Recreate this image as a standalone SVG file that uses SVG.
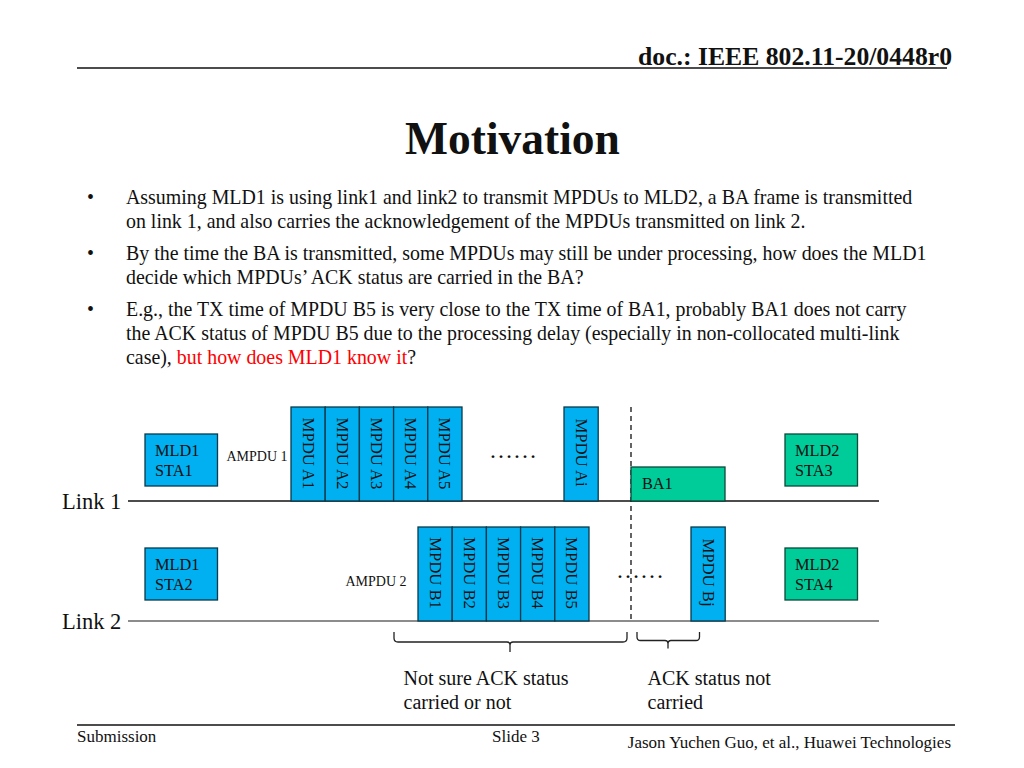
<svg xmlns="http://www.w3.org/2000/svg" width="1024" height="768" viewBox="0 0 1024 768">
<style>
text{font-family:"Liberation Serif","Times New Roman",serif;fill:#111}
.b{font-size:19.900px}
.s{font-size:16.300px}
.x{font-size:14px}
.m{font-size:16.700px;text-anchor:middle}
.t{font-size:20px}
.lk{font-size:22.500px}
.f{font-size:17px}
.d{font-size:24px}
.blue{fill:#00b0f0;stroke:#0a3a4a;stroke-width:1.3}
.green{fill:#00cc99;stroke:#0a4a3a;stroke-width:1.3}
.l{fill:none;stroke:#222;stroke-width:1.3}
</style>
<rect width="1024" height="768" fill="#fff"/>
<g id="header">
<line x1="77" y1="68" x2="947" y2="68" stroke="#111" stroke-width="1.5"/>
<text x="952" y="65" text-anchor="end" font-size="25.700" font-weight="bold">doc.: IEEE 802.11-20/0448r0</text>
<text x="512.500" y="154" text-anchor="middle" font-size="45.500" font-weight="bold">Motivation</text>
</g>
<g id="body">
<text x="87" y="204" class="b">•</text>
<text x="126" y="204" class="b">Assuming MLD1 is using link1 and link2 to transmit MPDUs to MLD2, a BA frame is transmitted</text>
<text x="126" y="228" class="b">on link 1, and also carries the acknowledgement of the MPDUs transmitted on link 2.</text>
<text x="87" y="260" class="b">•</text>
<text x="126" y="260" class="b">By the time the BA is transmitted, some MPDUs may still be under processing, how does the MLD1</text>
<text x="126" y="284" class="b">decide which MPDUs’ ACK status are carried in the BA?</text>
<text x="87" y="316" class="b">•</text>
<text x="126" y="316" class="b">E.g., the TX time of MPDU B5 is very close to the TX time of BA1, probably BA1 does not carry</text>
<text x="126" y="340" class="b">the ACK status of MPDU B5 due to the processing delay (especially in non-collocated multi-link</text>
<text x="126" y="364" class="b">case), <tspan fill="#ff0000">but how does MLD1 know it</tspan>?</text>
</g>
<g id="connectors">
<line id="link1" x1="128" y1="501" x2="879" y2="501" stroke="#111" stroke-width="1.4"/>
<line id="link2" x1="128" y1="621" x2="879" y2="621" stroke="#666" stroke-width="1.6"/>
<line id="marker" x1="631" y1="407" x2="631" y2="621" stroke="#111" stroke-width="1.3" stroke-dasharray="5 4"/>
<path id="brace1" class="l" d="M394 632v6q0 4 4 4H507q3 0 3 3v7M510 645q0-3 3-3H623q4 0 4-4v-6"/>
<path id="brace2" class="l" d="M637 632v5q0 3.500 3.500 3.500H665q3 0 3 3v5M668 644q0-3.500 3-3.500H696q3.500 0 3.500-3.500v-5"/>
</g>
<g id="n-sta1"><rect class="blue" x="145" y="434" width="72.500" height="52"/><text class="s" x="155" y="456">MLD1</text><text class="s" x="155" y="476">STA1</text></g>
<g id="n-sta2"><rect class="blue" x="145" y="548" width="72.500" height="52"/><text class="s" x="155" y="570">MLD1</text><text class="s" x="155" y="590">STA2</text></g>
<g id="n-sta3"><rect class="green" x="785" y="434" width="72.500" height="52"/><text class="s" x="795" y="456">MLD2</text><text class="s" x="795" y="476">STA3</text></g>
<g id="n-sta4"><rect class="green" x="785" y="548" width="72.500" height="52"/><text class="s" x="795" y="570">MLD2</text><text class="s" x="795" y="590">STA4</text></g>
<g id="n-a1"><rect class="blue" x="291" y="407" width="34.200" height="94"/><text class="m" transform="translate(302.500,453.500) rotate(90)">MPDU A1</text></g>
<g id="n-a2"><rect class="blue" x="325.200" y="407" width="34.200" height="94"/><text class="m" transform="translate(336.700,453.500) rotate(90)">MPDU A2</text></g>
<g id="n-a3"><rect class="blue" x="359.400" y="407" width="34.200" height="94"/><text class="m" transform="translate(370.900,453.500) rotate(90)">MPDU A3</text></g>
<g id="n-a4"><rect class="blue" x="393.600" y="407" width="34.200" height="94"/><text class="m" transform="translate(405.100,453.500) rotate(90)">MPDU A4</text></g>
<g id="n-a5"><rect class="blue" x="427.800" y="407" width="34.200" height="94"/><text class="m" transform="translate(439.300,453.500) rotate(90)">MPDU A5</text></g>
<g id="n-ai"><rect class="blue" x="564" y="407" width="34.200" height="94"/><text class="m" transform="translate(575.500,452.500) rotate(90)">MPDU Ai</text></g>
<g id="n-ba1"><rect class="green" x="631" y="467" width="94" height="34"/><text class="s" x="642" y="489">BA1</text></g>
<g id="n-b1"><rect class="blue" x="418" y="527" width="34.200" height="94"/><text class="m" transform="translate(429.500,573) rotate(90)">MPDU B1</text></g>
<g id="n-b2"><rect class="blue" x="452.200" y="527" width="34.200" height="94"/><text class="m" transform="translate(463.700,573) rotate(90)">MPDU B2</text></g>
<g id="n-b3"><rect class="blue" x="486.400" y="527" width="34.200" height="94"/><text class="m" transform="translate(497.900,573) rotate(90)">MPDU B3</text></g>
<g id="n-b4"><rect class="blue" x="520.600" y="527" width="34.200" height="94"/><text class="m" transform="translate(532.100,573) rotate(90)">MPDU B4</text></g>
<g id="n-b5"><rect class="blue" x="554.800" y="527" width="34.200" height="94"/><text class="m" transform="translate(566.300,573) rotate(90)">MPDU B5</text></g>
<g id="n-bj"><rect class="blue" x="691" y="527" width="34.200" height="94"/><text class="m" transform="translate(702.500,572.500) rotate(90)">MPDU Bj</text></g>
<g id="labels">
<text class="x" x="226.500" y="461">AMPDU 1</text>
<text class="x" x="345.500" y="586">AMPDU 2</text>
<text class="d" x="489" y="458">……</text>
<text class="d" x="616" y="578">……</text>
<text class="lk" x="62" y="509">Link 1</text>
<text class="lk" x="62" y="629">Link 2</text>
<text class="t" x="403.500" y="685">Not sure ACK status</text>
<text class="t" x="403.500" y="709">carried or not</text>
<text class="t" x="647.500" y="685">ACK status not</text>
<text class="t" x="647.500" y="709">carried</text>
</g>
<g id="footer">
<line x1="77" y1="725" x2="955" y2="725" stroke="#111" stroke-width="1.5"/>
<text x="77" y="742" class="f">Submission</text>
<text x="492" y="742" class="f">Slide 3</text>
<text x="951" y="748" text-anchor="end" class="f">Jason Yuchen Guo, et al., Huawei Technologies</text>
</g>
</svg>
